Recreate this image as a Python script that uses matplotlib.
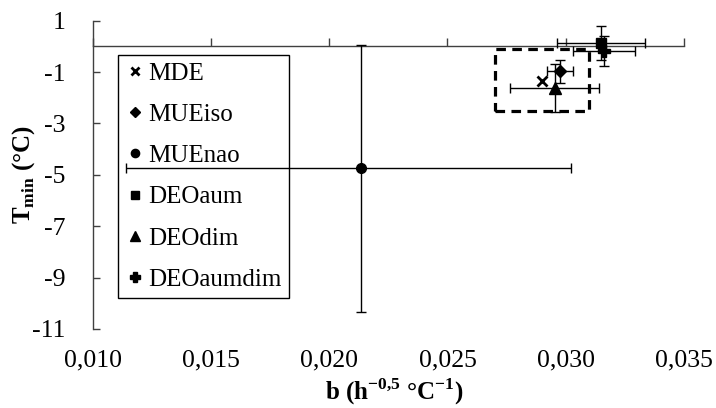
import matplotlib
matplotlib.use("Agg")
import matplotlib.pyplot as plt
from matplotlib.lines import Line2D
from matplotlib.patches import Rectangle
from matplotlib.ticker import FuncFormatter

plt.rcParams["font.family"] = ["Liberation Serif", "DejaVu Serif"]
plt.rcParams["mathtext.fontset"] = "custom"
plt.rcParams["mathtext.rm"] = "Liberation Serif"
plt.rcParams["mathtext.bf"] = "Liberation Serif:bold"
plt.rcParams["axes.unicode_minus"] = False

# b (h^-0.5 C^-1) and Tmin (C) per method, with error bars (low/high)
series = ["MDE", "MUEiso", "MUEnao", "DEOaum", "DEOdim", "DEOaumdim"]
markers = ["x", "D", "o", "s", "^", "P"]
msizes = [7, 6, 7, 7, 8, 9]
b_vals = [0.0290, 0.02976, 0.02136, 0.03148, 0.02953, 0.03162]
t_vals = [-1.36, -0.97, -4.73, 0.13, -1.61, -0.19]
b_err_lo = [0.0, 0.00056, 0.00996, 0.00186, 0.0019, 0.0013]
b_err_hi = [0.0, 0.00056, 0.00885, 0.00186, 0.0019, 0.0013]
t_err_lo = [0.0, 0.46, 5.6, 0.67, 0.94, 0.58]
t_err_hi = [0.0, 0.46, 4.8, 0.67, 0.94, 0.58]

b_ticks = [0.010, 0.015, 0.020, 0.025, 0.030, 0.035]
t_ticks = [1, -1, -3, -5, -7, -9, -11]

# zoomed region outline (b from, b to, T from, T to)
box_b = (0.0270, 0.0310)
box_t = (-2.5, -0.08)

axis_col = "#404040"

fig = plt.figure(figsize=(7.16, 4.08), dpi=100)
ax = fig.add_axes([0.130, 0.194, 0.825, 0.755])

for i, name in enumerate(series):
    has_err = b_err_lo[i] > 0
    ax.errorbar(
        b_vals[i],
        t_vals[i],
        xerr=[[b_err_lo[i]], [b_err_hi[i]]] if has_err else None,
        yerr=[[t_err_lo[i]], [t_err_hi[i]]] if has_err else None,
        marker=markers[i],
        ms=msizes[i],
        mew=2 if markers[i] == "x" else 1,
        color="black",
        ecolor="black",
        elinewidth=1.0,
        capsize=3.6,
        capthick=1.0,
        linestyle="none",
        zorder=3,
    )

ax.add_patch(
    Rectangle(
        (box_b[0], box_t[0]),
        box_b[1] - box_b[0],
        box_t[1] - box_t[0],
        fill=False,
        edgecolor="black",
        linewidth=2.3,
        linestyle=(0, (3, 2)),
        zorder=4,
    )
)

ax.set_xlim(0.010, 0.035)
ax.set_ylim(-11, 1)
ax.set_xticks(b_ticks)
ax.set_yticks(t_ticks)

for side in ("top", "right"):
    ax.spines[side].set_visible(False)
ax.spines["bottom"].set_position(("data", 0))
for side in ("bottom", "left"):
    ax.spines[side].set_color(axis_col)
    ax.spines[side].set_linewidth(1.0)

ax.tick_params(axis="x", direction="in", length=6, width=1.0, color=axis_col,
               labelbottom=False)
ax.tick_params(axis="y", direction="in", length=5, width=1.0, color=axis_col,
               labelsize=18.5, pad=20)
ax.set_ylabel(r"T$_{\mathbf{min}}$ (°C)", fontsize=18, fontweight="bold")
ax.yaxis.set_label_coords(-0.095, 0.5)

# tick labels stay at the bottom of the plot while the axis line crosses at 0
sec = ax.secondary_xaxis("bottom")
sec.set_xticks(b_ticks)
sec.spines["bottom"].set_visible(False)
sec.tick_params(axis="x", length=0, labelsize=18.5, pad=15)
sec.xaxis.set_major_formatter(FuncFormatter(lambda v, p: f"{v:.3f}".replace(".", ",")))
sec.set_xlabel(r"b (h$^{\mathbf{-0{,}5}}$ °C$^{\mathbf{-1}}$)", fontsize=18,
               fontweight="bold")
sec.xaxis.set_label_coords(0.51, -0.155, transform=ax.transAxes)

handles = [
    Line2D([], [], marker=m, ms=s * 0.85, mew=2 if m == "x" else 1,
           color="black", linestyle="none")
    for m, s in zip(markers, msizes)
]
leg = ax.legend(
    handles,
    series,
    loc="upper left",
    bbox_to_anchor=(0.042, 0.89),
    borderaxespad=0,
    fontsize=18,
    frameon=True,
    fancybox=False,
    framealpha=1,
    edgecolor="black",
    borderpad=0.3,
    labelspacing=0.75,
    handlelength=0.8,
    handletextpad=0.1,
)
leg.get_frame().set_linewidth(1.0)
# error bars run across the legend box
leg.set_zorder(2)

fig.savefig("out.png", dpi=100)
